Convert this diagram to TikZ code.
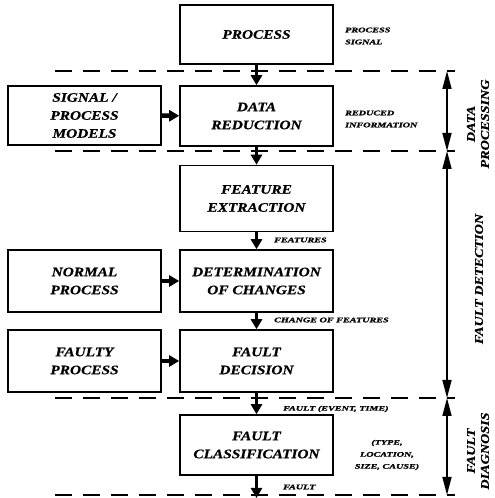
\documentclass[tikz,border=0pt]{standalone}
\usepackage{fontspec}
\setmainfont{Liberation Serif}[FakeStretch=1.18,FakeBold=0.6]
\newfontfamily\lblfont{Liberation Serif}[FakeStretch=1.45,FakeBold=1.2]
\usetikzlibrary{arrows.meta}

\tikzset{
  blk/.style={draw, line width=1.6pt, minimum width=153pt, inner sep=0pt, align=center,
    font=\fontsize{13}{18}\selectfont\bfseries\itshape},
  lbl/.style={inner sep=0pt, align=left, font=\lblfont\fontsize{7}{12}\selectfont\bfseries\itshape},
  flow/.style={line width=3pt, -{Triangle[width=11pt,length=10pt]}},
  feed/.style={line width=4.5pt, -{Triangle[width=11pt,length=10pt]}},
  sepline/.style={line width=1.6pt, dash pattern=on 17pt off 11pt},
  span/.style={line width=1.6pt, {Triangle[width=9pt,length=18pt]}-{Triangle[width=9pt,length=18pt]}},
  side/.style={inner sep=0pt, rotate=90, align=center, font=\fontsize{12}{14}\selectfont\bfseries\itshape}
}

\begin{document}
\begin{tikzpicture}[x=1pt,y=1pt,line cap=butt,line join=miter]
\useasboundingbox (0,0) rectangle (495,498);
% blocks of the main chain
\node[blk, minimum height=59pt] (proc) at (256.5,463.5) {PROCESS};
\node[blk, minimum height=60pt] (datared) at (256.5,382) {DATA\\REDUCTION};
\node[blk, minimum height=66pt] (featex) at (256.5,299.5) {FEATURE\\EXTRACTION};
\node[blk, minimum height=62pt] (detchg) at (256.5,217) {DETERMINATION\\OF CHANGES};
\node[blk, minimum height=62pt] (faultdec) at (256.5,137) {FAULT\\DECISION};
\node[blk, minimum height=60pt] (faultcls) at (256.5,53) {FAULT\\CLASSIFICATION};
% blocks on the left
\node[blk, minimum height=59pt] (models) at (84.5,382.5) {SIGNAL /\\PROCESS\\MODELS};
\node[blk, minimum height=62pt] (normal) at (84.5,217) {NORMAL\\PROCESS};
\node[blk, minimum height=62pt] (faulty) at (84.5,137) {FAULTY\\PROCESS};
\coordinate (out) at (256.5,0);

% separating lines
\draw[sepline] (55,427) -- (455,427);
\draw[sepline] (55,347) -- (455,347);
\draw[sepline] (55,100) -- (455,100);
\draw[sepline] (55,3) -- (455,3);

\draw[flow] (proc) -- (datared);
\draw[flow] (datared) -- (featex);
\draw[flow] (featex) -- (detchg);
\draw[flow] (detchg) -- (faultdec);
\draw[flow] (faultdec) -- (faultcls);
\draw[flow] (faultcls) -- (out);
\draw[feed] (models) -- (datared);
\draw[feed] (normal) -- (detchg);
\draw[feed] (faulty) -- (faultdec);

% stages on the right
\coordinate (s1) at (447,427);
\coordinate (s2) at (447,347);
\coordinate (s3) at (447,100);
\coordinate (s4) at (447,3);
\draw[span] (s1) -- (s2);
\draw[span] (s2) -- (s3);
\draw[span] (s3) -- (s4);
\node[side] (stdp) at (478,374) {DATA\\PROCESSING};
\node[side] (stfd) at (479,219) {FAULT DETECTION};
\node[side] (stfg) at (478,47) {FAULT\\DIAGNOSIS};

% signal labels
\node[lbl, anchor=west] (lsig) at (345,462) {PROCESS\\SIGNAL};
\node[lbl, anchor=west] (lred) at (345,379) {REDUCED\\INFORMATION};
\node[lbl, anchor=west] (lfeat) at (274,258) {FEATURES};
\node[lbl, anchor=west] (lchg) at (274,178) {CHANGE OF FEATURES};
\node[lbl, anchor=west] (lev) at (283,89) {FAULT (EVENT, TIME)};
\node[lbl, align=center] (ltype) at (387,43) {(TYPE,\\LOCATION,\\SIZE, CAUSE)};
\node[lbl, anchor=west] (lfault) at (283,11) {FAULT};
\end{tikzpicture}
\end{document}
